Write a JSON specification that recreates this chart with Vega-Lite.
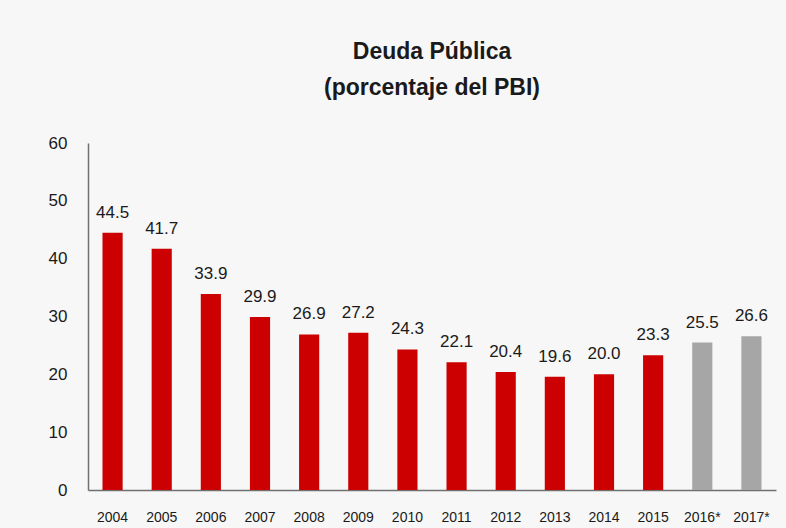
{
  "$schema": "https://vega.github.io/schema/vega-lite/v6.json",
  "width": 688,
  "height": 347,
  "autosize": {"type": "none"},
  "padding": {"left": 88, "top": 143, "right": 10, "bottom": 38},
  "background": "#f7f7f7",
  "title": {
    "text": ["Deuda Pública", "(porcentaje del PBI)"],
    "font": "Liberation Sans",
    "fontSize": 23,
    "fontWeight": "bold",
    "color": "#1a1a1a",
    "lineHeight": 36,
    "offset": 34,
    "anchor": "middle"
  },
  "data": {
    "values": [
      {"year": "2004", "value": 44.5, "type": "real"},
      {"year": "2005", "value": 41.7, "type": "real"},
      {"year": "2006", "value": 33.9, "type": "real"},
      {"year": "2007", "value": 29.9, "type": "real"},
      {"year": "2008", "value": 26.9, "type": "real"},
      {"year": "2009", "value": 27.2, "type": "real"},
      {"year": "2010", "value": 24.3, "type": "real"},
      {"year": "2011", "value": 22.1, "type": "real"},
      {"year": "2012", "value": 20.4, "type": "real"},
      {"year": "2013", "value": 19.6, "type": "real"},
      {"year": "2014", "value": 20.0, "type": "real"},
      {"year": "2015", "value": 23.3, "type": "real"},
      {"year": "2016*", "value": 25.5, "type": "proj"},
      {"year": "2017*", "value": 26.6, "type": "proj"}
    ]
  },
  "config": {
    "view": {"stroke": null},
    "font": "Liberation Sans"
  },
  "encoding": {
    "x": {
      "field": "year",
      "type": "ordinal",
      "sort": null,
      "scale": {"paddingInner": 0.59, "paddingOuter": 0.295},
      "axis": {
        "title": null,
        "labelAngle": 0,
        "ticks": false,
        "domainColor": "#707070",
        "domainWidth": 1.5,
        "labelPadding": 20,
        "labelFontSize": 14,
        "labelColor": "#1a1a1a"
      }
    },
    "y": {
      "field": "value",
      "type": "quantitative",
      "scale": {"domain": [0, 60], "nice": false},
      "axis": {
        "title": null,
        "values": [0, 10, 20, 30, 40, 50, 60],
        "grid": false,
        "ticks": false,
        "domainColor": "#707070",
        "domainWidth": 1.5,
        "labelPadding": 21,
        "labelFontSize": 17,
        "labelColor": "#1a1a1a"
      }
    }
  },
  "layer": [
    {
      "mark": {"type": "bar"},
      "encoding": {
        "color": {
          "field": "type",
          "type": "nominal",
          "scale": {"domain": ["real", "proj"], "range": ["#cc0000", "#a6a6a6"]},
          "legend": null
        }
      }
    },
    {
      "mark": {"type": "text", "dy": -20, "fontSize": 17, "color": "#1a1a1a"},
      "encoding": {
        "text": {"field": "value", "type": "quantitative", "format": ".1f"}
      }
    }
  ]
}
